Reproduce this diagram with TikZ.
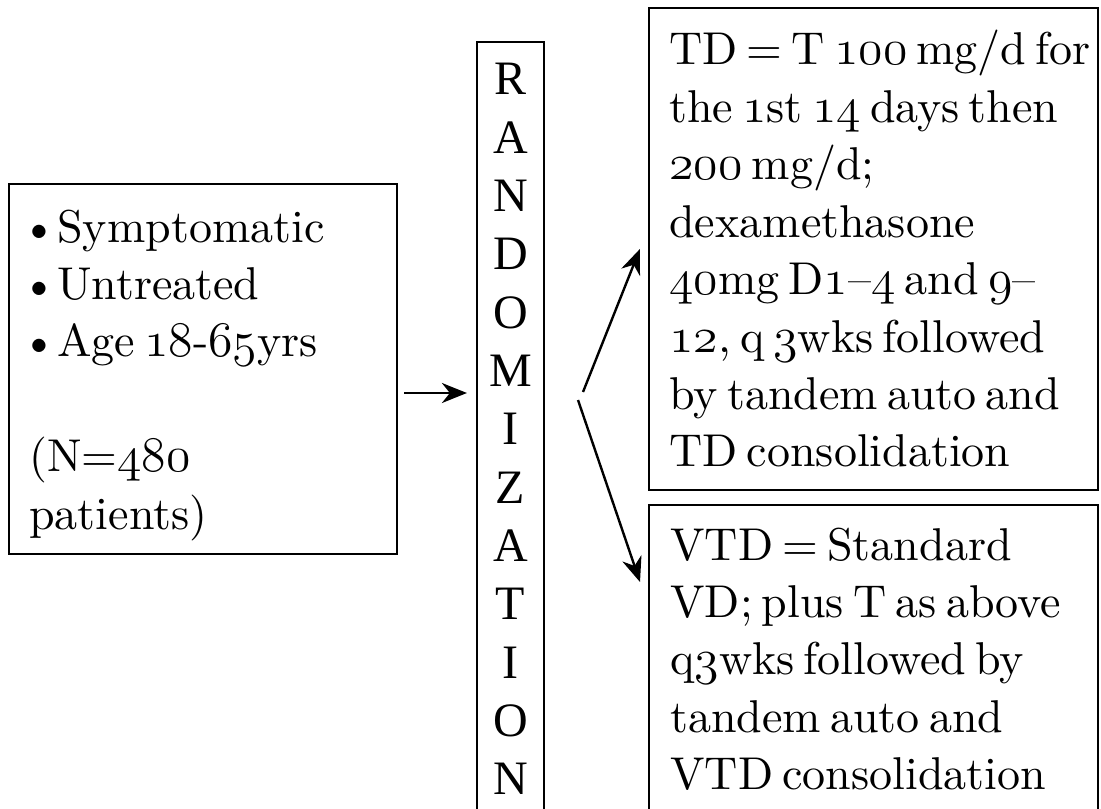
\documentclass[tikz,border=0pt]{standalone}
\usepackage{fontspec}
\newfontfamily\randfont{Liberation Serif}
\newfontfamily\bodyf{lmroman10-regular.otf}[Ligatures=TeX]
\usetikzlibrary{arrows.meta}
% old-style figures taken from the math italic font
\newcommand\osn[1]{\ensuremath{\mathnormal{#1}}}
\newcommand\bodyfont{\bodyf\fontsize{23pt}{28.7pt}\selectfont\spaceskip=0.2em plus 0.1em minus 0.05em\relax}
\newcommand\bul{\makebox[14pt][l]{\hspace{-4pt}\textbullet}}

\begin{document}
\begin{tikzpicture}[x=0.5pt,y=-0.5pt,
  boxstyle/.style={draw, line width=1.1pt, inner sep=0pt},
  arr/.style={line width=1.2pt, -{Stealth[length=12.5pt,width=10pt,inset=4pt]}},
  txt/.style={anchor=base west, inner sep=0pt},
  letter/.style={anchor=base, inner sep=0pt, font=\randfont\fontsize{24pt}{24pt}\selectfont},
]
\useasboundingbox (0,0) rectangle (1101,808);

% boxes
\node[boxstyle, minimum width=194pt, minimum height=185pt] (lbox) at (203,369) {};
\node[boxstyle, minimum width=33.5pt, minimum height=389pt] (rand) at (510.5,431) {};
\node[boxstyle, minimum width=224.5pt, minimum height=241pt] (tbox) at (873.5,249) {};
\node[boxstyle, minimum width=224.5pt, minimum height=167.5pt] (bbox) at (873.5,672.5) {};

% patient criteria
\node[txt] (ltext) at (29,242) {\parbox[t]{185pt}{\bodyfont
  \bul Symptomatic\\
  \bul Untreated\\
  \bul Age \osn{18}-\osn{65}yrs\\[28.7pt]
  (N=\osn{480}\\
  patients)}};

% vertical label
\foreach \ch [count=\i from 0] in {R,A,N,D,O,M,I,Z,A,T,I,O,N}
  \node[letter] (L\i) at (510.5, 95+58.33*\i) {\ch};

% treatment arms
\node[txt] (ttext) at (669,65) {\parbox[t]{220pt}{\bodyfont
  TD = T \osn{100} mg/d for\\
  the \osn{1}st \osn{14} days then\\
  \osn{200} mg/d;\\
  dexamethasone\\
  \osn{40}mg D\osn{1}–\osn{4} and \osn{9}–\\
  \osn{12}, q \osn{3}wks followed\\
  by tandem auto and\\
  TD consolidation}};

\node[txt] (btext) at (670,560) {\parbox[t]{220pt}{\bodyfont
  VTD = Standard\\
  VD; plus T as above\\
  q\osn{3}wks followed by\\
  tandem auto and\\
  VTD consolidation}};

% connectors
\coordinate (lvl) at (0,393);
\coordinate (s1) at (583,392);
\coordinate (s2) at (578,400);
\coordinate (t2) at (640,582);
\draw[arr, shorten <=3pt, shorten >=4.5pt] (lbox.east |- lvl) -- (rand.west |- lvl);
\draw[arr] (s1) -- ([xshift=-4pt]tbox.west);
\draw[arr] (s2) -- (t2);
\end{tikzpicture}
\end{document}
